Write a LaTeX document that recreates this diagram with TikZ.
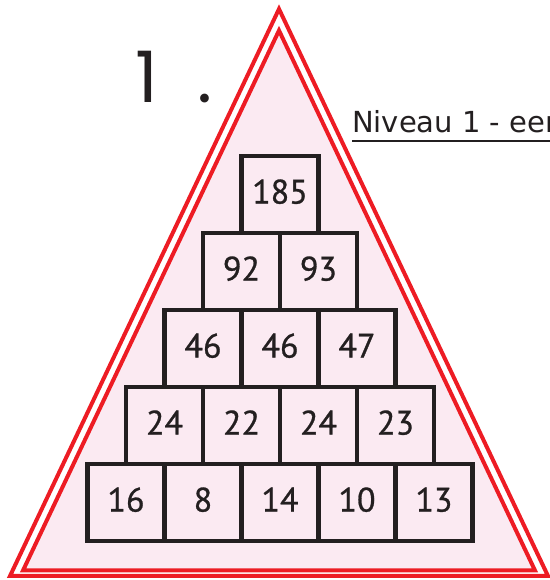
\documentclass[tikz,border=0pt]{standalone}
\usepackage{fontspec}
\setmainfont{PT Sans}[FakeBold=0.8]
\newfontfamily\titlefont{Poppins}
\newfontfamily\levelfont{DejaVu Sans}
\usetikzlibrary{positioning}

\definecolor{framered}{HTML}{ED1C24}
\definecolor{trifill}{HTML}{FBEAF2}
\definecolor{ink}{HTML}{231F20}

\begin{document}
\begin{tikzpicture}[
        x=1pt, y=1pt,
        frame/.style={draw=framered, line width=4pt},
        cell/.style={draw=ink, rectangle, line width=4.5pt, minimum width=77pt, minimum height=77pt, inner sep=0pt, outer sep=0pt, text=ink, text depth=6pt, font=\fontsize{34}{34}\selectfont},
        title/.style={anchor=base west, inner sep=0pt, text=ink}
    ]
    \useasboundingbox (0,0) rectangle (549,580);

    % triangle frame
    \fill[trifill] (23,9.5) -- (279,549.5) -- (535,9.5) -- cycle;
    \draw[frame] (10,4) -- (279,571) -- (548,4) -- cycle;
    \draw[frame] (23,9.5) -- (279,549.5) -- (535,9.5) -- cycle;

    % headings
    \node[title, font=\titlefont\fontsize{71}{71}\selectfont] (num) at (135,477) {1\kern40pt.};
    \node[title, font=\levelfont\fontsize{29}{29}\selectfont] (level) at (352,447) {Niveau 1 - een};
    \draw[ink, line width=2.5pt] ([yshift=-8pt]level.base west) -- ++(200,0);

    % pyramid
    \node[cell] (b11) at (280,385.5) {185};

    \node[cell, anchor=north east] (b21) at (b11.south) {92};
    \node[cell, right=0pt of b21] (b22) {93};

    \node[cell, anchor=north] (b32) at (b21.south east) {46};
    \node[cell, left=0pt of b32] (b31) {46};
    \node[cell, right=0pt of b32] (b33) {47};

    \node[cell, anchor=north east] (b42) at (b32.south) {22};
    \node[cell, left=0pt of b42] (b41) {24};
    \node[cell, right=0pt of b42] (b43) {24};
    \node[cell, right=0pt of b43] (b44) {23};

    \node[cell, anchor=north] (b53) at (b42.south east) {14};
    \node[cell, left=0pt of b53] (b52) {8};
    \node[cell, left=0pt of b52] (b51) {16};
    \node[cell, right=0pt of b53] (b54) {10};
    \node[cell, right=0pt of b54] (b55) {13};

\end{tikzpicture}
\end{document}
